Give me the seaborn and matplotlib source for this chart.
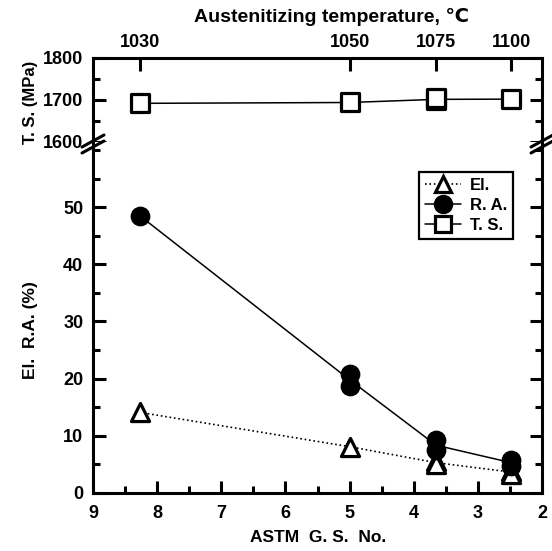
import matplotlib.pyplot as plt
import seaborn as sns
from matplotlib.lines import Line2D
from matplotlib.ticker import MultipleLocator, FixedLocator

# values
gs_ra = [8.27, 5.0, 5.0, 3.65, 3.65, 2.48, 2.48]
ra = [48.5, 20.8, 18.8, 9.2, 7.5, 5.8, 4.8]
gs_el = [8.27, 5.0, 3.65, 3.65, 2.48, 2.48]
el = [14.1, 8.1, 5.6, 5.0, 3.9, 3.4]
gs_ts = [8.27, 5.0, 3.65, 3.65, 2.48]
ts = [1692, 1694, 1699, 1704, 1702]
temp_gs = [8.27, 5.0, 3.65, 2.48]
temp_labels = ["1030", "1050", "1075", "1100"]
ra_ticks = [0, 10, 20, 30, 40, 50]
ts_ticks = [1600, 1700, 1800]

sns.set_theme(style="ticks")
plt.rcParams["font.family"] = ["Liberation Sans", "DejaVu Sans"]
plt.rcParams["font.weight"] = "bold"
plt.rcParams["axes.linewidth"] = 2.2
for key in ("text.color", "axes.labelcolor", "xtick.color", "ytick.color",
            "axes.edgecolor"):
    plt.rcParams[key] = "black"

fig = plt.figure(figsize=(5.52, 5.51), dpi=100)
ax_ts = fig.add_axes([0.1685, 0.7423, 0.8134, 0.1525])
ax = fig.add_axes([0.1685, 0.1053, 0.8134, 0.637])

# lower panel: El. and R.A.
sns.lineplot(x=gs_el, y=el, estimator="mean", errorbar=None, color="black",
             lw=1.2, linestyle=":", ax=ax)
sns.lineplot(x=gs_ra, y=ra, estimator="mean", errorbar=None, color="black",
             lw=1.1, ax=ax)
sns.scatterplot(x=gs_el, y=el, marker="^", s=170, color="white",
                edgecolor="black", linewidth=2.3, zorder=3, ax=ax)
sns.scatterplot(x=gs_ra, y=ra, marker="o", s=175, color="black",
                edgecolor="black", linewidth=1, zorder=4, ax=ax)

# upper panel: T.S.
sns.lineplot(x=gs_ts, y=ts, estimator="mean", errorbar=None, color="black",
             lw=1.1, ax=ax_ts)
sns.scatterplot(x=gs_ts, y=ts, marker="s", s=150, color="white",
                edgecolor="black", linewidth=2.3, zorder=3, ax=ax_ts)

for a in (ax, ax_ts):
    a.set_xlim(9, 2)
    a.set_xlabel("")
    a.set_ylabel("")

ax.set_ylim(0, 61.4)
ax.yaxis.set_major_locator(FixedLocator(ra_ticks))
ax.yaxis.set_minor_locator(MultipleLocator(5))
ax.xaxis.set_major_locator(MultipleLocator(1))
ax.xaxis.set_minor_locator(MultipleLocator(0.5))
ax.spines["top"].set_visible(False)
ax.tick_params(which="both", direction="in", right=True, top=False,
               width=2.2, labelsize=13, pad=7)
ax.tick_params(which="major", length=9)
ax.tick_params(which="minor", length=5)
ax.tick_params(axis="x", pad=9)

ax_ts.set_ylim(1600, 1800)
ax_ts.yaxis.set_major_locator(FixedLocator(ts_ticks))
ax_ts.yaxis.set_minor_locator(MultipleLocator(50))
ax_ts.spines["bottom"].set_visible(False)
ax_ts.set_xticks(temp_gs)
ax_ts.set_xticklabels(temp_labels)
ax_ts.xaxis.tick_top()
ax_ts.tick_params(which="both", direction="in", right=True, width=2.2,
                  labelsize=13, pad=7)
ax_ts.tick_params(axis="y", which="major", length=9)
ax_ts.tick_params(axis="y", which="minor", length=5)
ax_ts.tick_params(axis="x", length=9, pad=5)
ax_ts.xaxis.set_minor_locator(plt.NullLocator())

for lbl in ax.get_xticklabels() + ax.get_yticklabels() + \
        ax_ts.get_xticklabels() + ax_ts.get_yticklabels():
    lbl.set_fontweight("bold")

# axis titles
fig.text(30 / 552, 1 - 330 / 551, "El.  R.A. (%)", rotation=90, ha="center",
         va="center", fontsize=12.5, fontweight="bold")
fig.text(30 / 552, 1 - 102 / 551, "T. S. (MPa)", rotation=90, ha="center",
         va="center", fontsize=12, fontweight="bold")
fig.text(318 / 552, 1 - 538 / 551, "ASTM  G. S.  No.", ha="center",
         va="center", fontsize=12.5, fontweight="bold")
fig.text(332 / 552, 1 - 17 / 551, "Austenitizing temperature, \u2103",
         ha="center", va="center", fontsize=14, fontweight="bold")

# axis break marks
for xp in (93, 542):
    for dy in (0, 6):
        y0 = 153 - dy
        fig.add_artist(Line2D([(xp - 11) / 552, (xp + 11) / 552],
                              [1 - y0 / 551, 1 - (y0 - 12) / 551],
                              color="black", lw=2.2,
                              transform=fig.transFigure))

# legend
handles = [
    Line2D([], [], color="black", ls=":", lw=1.2, marker="^", ms=12,
           mfc="white", mec="black", mew=2.3),
    Line2D([], [], color="black", lw=1.1, marker="o", ms=13,
           mfc="black", mec="black"),
    Line2D([], [], color="black", lw=1.1, marker="s", ms=11,
           mfc="white", mec="black", mew=2.3),
]
leg = ax.legend(handles, ["El.", "R. A.", "T. S."], loc="upper right",
                bbox_to_anchor=(0.935, 0.914), fancybox=False, framealpha=1,
                edgecolor="black", fontsize=12, handlelength=2.2,
                borderpad=0.35, labelspacing=0.3, handletextpad=0.5,
                borderaxespad=0)
leg.get_frame().set_linewidth(1.6)
for t in leg.get_texts():
    t.set_fontweight("bold")

fig.savefig("out.png", dpi=100)
